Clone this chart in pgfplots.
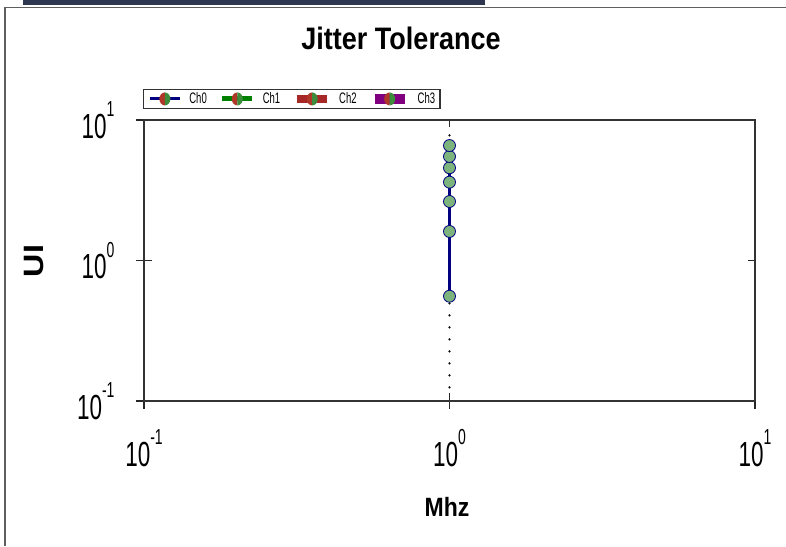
\documentclass[border=0pt]{standalone}
\usepackage{pgfplots}
\pgfplotsset{compat=1.18}
\usepackage{fontspec}
\setmainfont{Liberation Sans}
\definecolor{navyc}{RGB}{0,0,128}
\definecolor{greenc}{RGB}{0,128,0}
\definecolor{brownc}{RGB}{168,40,40}
\definecolor{purplec}{RGB}{128,0,128}
\definecolor{mkfill}{RGB}{125,180,125}
\definecolor{mkred}{RGB}{175,55,40}
\definecolor{mkgreen}{RGB}{60,140,60}
\definecolor{framec}{RGB}{95,95,95}
\definecolor{barc}{RGB}{45,55,80}
\newcommand{\tl}[1]{\scalebox{1}[1.55]{\fontsize{22.5}{22.5}\selectfont 10\raisebox{14pt}{\fontsize{14}{14}\selectfont #1}}}
\newcommand{\lgt}[1]{\scalebox{1}[1.6]{\fontsize{9.5}{10}\selectfont #1}}
\pgfplotsset{halfmark/.style={legend image code/.code={
  \draw[##1] (0pt,0pt) -- (30pt,0pt);
  \path[fill=mkred, draw=none, line width=0pt] (15pt,6.5pt) arc[start angle=90,end angle=270,x radius=5.5pt,y radius=6.5pt] -- cycle;
  \path[fill=mkgreen, draw=none, line width=0pt] (15pt,-6.5pt) arc[start angle=-90,end angle=90,x radius=5.5pt,y radius=6.5pt] -- cycle;
}}}
\begin{document}
\begin{tikzpicture}
\path[use as bounding box] (0pt,0pt) rectangle (786pt,546pt);
\fill[barc] (23pt,541pt) rectangle (485pt,546pt);
\draw[framec, line width=1.5pt] (5pt,0pt) -- (5pt,538.5pt) -- (786pt,538.5pt);
\begin{axis}[
  at={(144pt,145pt)}, anchor=south west,
  width=611pt, height=281pt, scale only axis,
  xmode=log, ymode=log,
  xmin=0.1, xmax=10, ymin=0.1, ymax=10,
  xminorticks=false, yminorticks=false,
  xtick={0.1,1,10}, ytick={0.1,1,10},
  xticklabels={\tl{-1},\tl{0},\tl{1}},
  yticklabels={\tl{-1},\tl{0},\tl{1}},
  tick pos=left, tick align=center,
  major tick length=16pt,
  major tick style={line width=1.2pt, black!85},
  axis line style={line width=1.5pt, black!80},
  xticklabel style={anchor=north, yshift=-17pt},
  yticklabel style={anchor=east, xshift=-18pt},
  legend style={at={(-0.002,1.039)}, anchor=south west, draw=black!80, line width=1.2pt,
    inner xsep=5pt, inner ysep=3pt, nodes={inner sep=0pt}, legend columns=4},
  legend cell align=left,
  /tikz/every odd column/.append style={column sep=8pt},
  /tikz/every even column/.append style={column sep=13pt},
]
\addplot[black, line width=2.4pt, line cap=round, dash pattern=on 0pt off 12pt, forget plot]
  coordinates {(1,0.125) (1,7.8)};
\addplot[navyc, line width=2.5pt, mark=*, mark size=6pt,
  mark options={solid, fill=mkfill, draw=navyc, line width=0.8pt}, forget plot]
  coordinates {(1,0.557) (1,1.61) (1,2.63) (1,3.61) (1,4.57) (1,5.50) (1,6.58)};
\addlegendimage{navyc, line width=3pt, halfmark}
\addlegendentry{\lgt{Ch0}}
\addlegendimage{greenc, line width=5pt, halfmark}
\addlegendentry{\lgt{Ch1}}
\addlegendimage{brownc, line width=8pt, halfmark}
\addlegendentry{\lgt{Ch2}}
\addlegendimage{purplec, line width=10pt, halfmark}
\addlegendentry{\lgt{Ch3}}
\end{axis}
\begin{axis}[
  at={(144pt,145pt)}, anchor=south west,
  width=611pt, height=281pt, scale only axis,
  xmode=log, ymode=log,
  xmin=0.1, xmax=10, ymin=0.1, ymax=10,
  xminorticks=false, yminorticks=false,
  xtick={0.1,1,10}, ytick={0.1,1,10},
  xticklabels={}, yticklabels={},
  tick pos=right, tick align=inside,
  major tick length=7pt,
  major tick style={line width=1.2pt, black!85},
  axis line style={line width=1.5pt, black!80},
]
\end{axis}
\node[anchor=base] at (401pt,496pt) {\scalebox{1}[1.15]{\fontsize{27}{27}\selectfont\bfseries Jitter Tolerance}};
\node[anchor=base] at (447pt,30pt) {\scalebox{1}[1.15]{\fontsize{23}{23}\selectfont\bfseries Mhz}};
\node[anchor=base, rotate=90] at (43pt,285pt) {\scalebox{1.15}[1]{\fontsize{28}{28}\selectfont\bfseries UI}};
\end{tikzpicture}
\end{document}
